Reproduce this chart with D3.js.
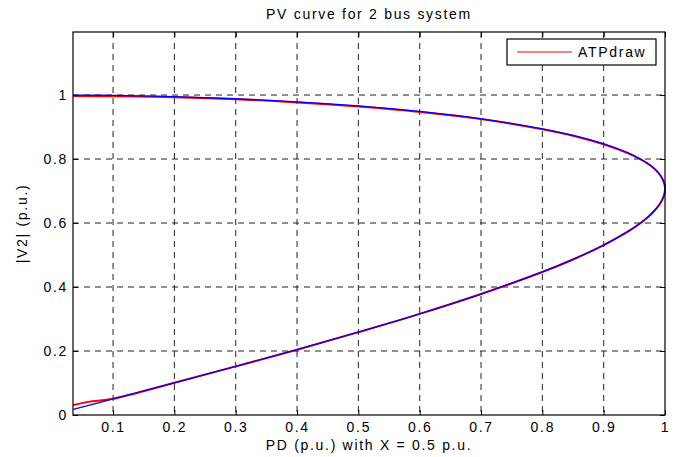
<!DOCTYPE html>
<html lang="en">
<head>
<meta charset="utf-8">
<title>PV curve</title>
<script src="https://d3js.org/d3.v7.min.js"></script>
<style>
  body { margin: 0; background: #fff; }
  text { font-family: "Liberation Sans", Arial, sans-serif; letter-spacing: 1.7px; }
</style>
</head>
<body>
<script>
// PD (p.u.) values, upper branch out to the nose then back along the lower branch
var pBlue = [0.035, 0.1, 0.2, 0.3, 0.4, 0.5, 0.6, 0.7, 0.8, 0.85, 0.9, 0.94, 0.95, 0.97, 0.98, 0.99, 0.995, 0.999, 1.0,
             0.999, 0.995, 0.99, 0.98, 0.97, 0.95, 0.94, 0.9, 0.85, 0.8, 0.7, 0.6, 0.5, 0.4, 0.3, 0.2, 0.1, 0.035];
var vBlue = [0.9997, 0.9988, 0.9949, 0.9884, 0.9789, 0.9659, 0.9487, 0.9258, 0.8944, 0.8737, 0.8473, 0.8189, 0.8100, 0.7884, 0.7743, 0.7553, 0.7416, 0.7227, 0.7071,
             0.6911, 0.6709, 0.6553, 0.6329, 0.6152, 0.5864, 0.5739, 0.5311, 0.4864, 0.4472, 0.3781, 0.3162, 0.2588, 0.2043, 0.1518, 0.1005, 0.0501, 0.0175];

var pRed = [0.035, 0.1, 0.2, 0.3, 0.4, 0.5, 0.6, 0.7, 0.8, 0.85, 0.9, 0.94, 0.95, 0.97, 0.98, 0.99, 0.995, 0.999, 1.0,
            0.999, 0.995, 0.99, 0.98, 0.97, 0.95, 0.94, 0.9, 0.85, 0.8, 0.7, 0.6, 0.5, 0.4, 0.3, 0.2, 0.1, 0.06, 0.035];
var vRed = [0.997, 0.996, 0.993, 0.987, 0.977, 0.964, 0.947, 0.925, 0.893, 0.873, 0.846, 0.818, 0.809, 0.788, 0.774, 0.755, 0.741, 0.722, 0.707,
            0.691, 0.671, 0.655, 0.633, 0.615, 0.586, 0.574, 0.531, 0.486, 0.447, 0.378, 0.316, 0.259, 0.204, 0.152, 0.101, 0.051, 0.041, 0.031];

var xTicks = [0.1, 0.2, 0.3, 0.4, 0.5, 0.6, 0.7, 0.8, 0.9, 1];
var yTicks = [0, 0.2, 0.4, 0.6, 0.8, 1];

var W = 679, H = 457;
var margin = {top: 32, right: 14, bottom: 42, left: 73};
var w = W - margin.left - margin.right;
var h = H - margin.top - margin.bottom;

var svg = d3.select("body").append("svg")
    .attr("width", W)
    .attr("height", H);

var x = d3.scaleLinear().domain([0.0347, 1]).range([0, w]);
var y = d3.scaleLinear().domain([0, 1.197]).range([h, 0]);

var g = svg.append("g")
    .attr("transform", "translate(" + margin.left + "," + margin.top + ")");

// dashed grid
g.append("g").selectAll("line")
    .data(xTicks.filter(function(d) { return d < 1; }))
    .enter().append("line")
    .attr("x1", function(d) { return x(d); })
    .attr("x2", function(d) { return x(d); })
    .attr("y1", 0).attr("y2", h)
    .style("stroke", "#222").style("stroke-dasharray", "6,5");

g.append("g").selectAll("line")
    .data(yTicks.filter(function(d) { return d > 0; }))
    .enter().append("line")
    .attr("x1", 0).attr("x2", w)
    .attr("y1", function(d) { return y(d); })
    .attr("y2", function(d) { return y(d); })
    .style("stroke", "#222").style("stroke-dasharray", "6,5");

// curves
var line = d3.line().curve(d3.curveCatmullRom);

g.append("path")
    .attr("d", line(pRed.map(function(p, i) { return [x(p), y(vRed[i])]; })))
    .style("fill", "none").style("stroke", "#ff0000").style("stroke-width", 2);

g.append("path")
    .attr("d", line(pBlue.map(function(p, i) { return [x(p), y(vBlue[i])]; })))
    .style("fill", "none").style("stroke", "#0000ff").style("stroke-width", 1.3);

// axes, ticks pointing inward, box all round
g.append("g")
    .attr("transform", "translate(0," + h + ")")
    .call(d3.axisBottom(x).tickValues(xTicks).tickSize(-5).tickPadding(7).tickFormat(d3.format("")))
    .call(function(a) { a.select(".domain").remove(); });

g.append("g")
    .call(d3.axisTop(x).tickValues(xTicks).tickSize(-5).tickFormat(""))
    .call(function(a) { a.select(".domain").remove(); });

g.append("g")
    .call(d3.axisLeft(y).tickValues(yTicks).tickSize(-5).tickPadding(5).tickFormat(d3.format("")))
    .call(function(a) { a.select(".domain").remove(); });

g.append("g")
    .attr("transform", "translate(" + w + ",0)")
    .call(d3.axisRight(y).tickValues(yTicks).tickSize(-5).tickFormat(""))
    .call(function(a) { a.select(".domain").remove(); });

g.selectAll(".tick text")
    .style("font-size", "14px")
    .style("fill", "#000");
g.selectAll(".tick line").style("stroke", "#000");

g.append("rect")
    .attr("width", w).attr("height", h)
    .style("fill", "none").style("stroke", "#000").style("stroke-width", 1.2);

// legend
var lg = svg.append("g").attr("transform", "translate(507,39)");
lg.append("rect")
    .attr("width", 149).attr("height", 26)
    .style("fill", "#fff").style("stroke", "#000").style("stroke-width", 1.2);
lg.append("line")
    .attr("x1", 10).attr("x2", 65).attr("y1", 13).attr("y2", 13)
    .style("stroke", "#ff0000");
lg.append("text")
    .attr("x", 71).attr("y", 18)
    .style("font-size", "14px")
    .text("ATPdraw");

// titles
svg.append("text")
    .attr("x", margin.left + w / 2).attr("y", 19)
    .attr("text-anchor", "middle")
    .style("font-size", "14px")
    .text("PV curve for 2 bus system");

svg.append("text")
    .attr("x", margin.left + w / 2).attr("y", 450)
    .attr("text-anchor", "middle")
    .style("font-size", "14px")
    .text("PD (p.u.) with X = 0.5 p.u.");

svg.append("text")
    .attr("transform", "translate(27," + (margin.top + h / 2) + ") rotate(-90)")
    .attr("text-anchor", "middle")
    .style("font-size", "14px")
    .text("|V2| (p.u.)");
</script>
</body>
</html>
